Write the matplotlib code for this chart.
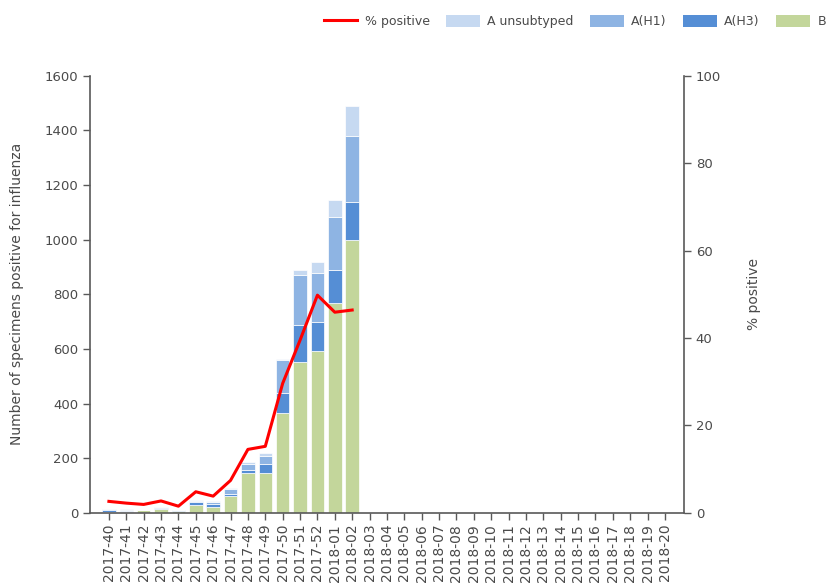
import matplotlib

matplotlib.use("Agg")
import matplotlib.pyplot as plt
import numpy as np
from matplotlib.patches import Patch
from matplotlib.lines import Line2D

weeks = ["2017-%d" % w for w in range(40, 53)] + ["2018-%02d" % w for w in range(1, 21)]

# counts per week (only first 15 weeks reported)
b_counts = [2, 2, 10, 14, 8, 30, 20, 60, 144, 144, 367, 553, 593, 769, 999]
h3_counts = [7, 6, 0, 3, 1, 8, 12, 10, 12, 36, 72, 134, 106, 120, 140]
h1_counts = [3, 3, 0, 3, 1, 5, 8, 18, 22, 27, 120, 184, 178, 195, 239]
unsub_counts = [1, 1, 0, 1, 0, 2, 2, 4, 8, 10, 4, 18, 42, 62, 112]
pct_positive = [2.6, 2.2, 1.9, 2.7, 1.5, 4.8, 3.8, 7.4, 14.5, 15.2, 29.6, 39.5, 49.8, 45.9, 46.4]

c_b = "#c3d69b"
c_h3 = "#558ed5"
c_h1 = "#8eb4e3"
c_un = "#c6d9f1"
c_axis = "#595959"
c_text = "#4a4a4a"


def pad(vals):
    return np.array(vals + [0] * (len(weeks) - len(vals)), dtype=float)


b = pad(b_counts)
h3 = pad(h3_counts)
h1 = pad(h1_counts)
un = pad(unsub_counts)
x = np.arange(len(weeks))

fig = plt.figure(figsize=(8.33, 5.88), dpi=100)
ax = fig.add_axes([0.108, 0.128, 0.713, 0.743])
ax2 = ax.twinx()

w = 0.78
ax.bar(x, b, w, color=c_b, edgecolor="white", linewidth=0.5, zorder=2)
ax.bar(x, h3, w, bottom=b, color=c_h3, edgecolor="white", linewidth=0.5, zorder=2)
ax.bar(x, h1, w, bottom=b + h3, color=c_h1, edgecolor="white", linewidth=0.5, zorder=2)
ax.bar(x, un, w, bottom=b + h3 + h1, color=c_un, edgecolor="white", linewidth=0.5, zorder=2)

ax2.plot(x[: len(pct_positive)], pct_positive, color="#ff0000", linewidth=2.2, zorder=5)

ax.set_xlim(-1.09, len(weeks) - 1 + 1.09)
ax.set_ylim(0, 1600)
ax.set_yticks(np.arange(0, 1601, 200))
ax2.set_ylim(0, 100)
ax2.set_yticks(np.arange(0, 101, 20))
ax.set_xticks(x)
ax.set_xticklabels(weeks, rotation=90, fontsize=10, color=c_text)

for a in (ax, ax2):
    a.spines["top"].set_visible(False)
    for s in ("left", "right", "bottom"):
        a.spines[s].set_color(c_axis)
        a.spines[s].set_linewidth(1.2)
    a.tick_params(colors=c_axis, labelcolor=c_text, labelsize=9.5, length=5, width=1)
ax.spines["right"].set_visible(False)
ax2.spines["left"].set_visible(False)
ax2.spines["bottom"].set_visible(False)
ax.tick_params(axis="x", labelsize=10, pad=3)

ax.set_ylabel("Number of specimens positive for influenza", fontsize=10, color=c_text, labelpad=15)
ax2.set_ylabel("% positive", fontsize=10, color=c_text, rotation=90, labelpad=19)

handles = [
    Line2D([0], [0], color="#ff0000", linewidth=2.2),
    Patch(facecolor=c_un),
    Patch(facecolor=c_h1),
    Patch(facecolor=c_h3),
    Patch(facecolor=c_b),
]
labels = ["% positive", "A unsubtyped", "A(H1)", "A(H3)", "B"]
fig.legend(handles, labels, loc="center right", bbox_to_anchor=(1.005, 0.963), ncol=5,
           frameon=False, fontsize=9, handlelength=2.7, handleheight=1.0,
           columnspacing=1.3, handletextpad=0.6, labelcolor=c_text)

fig.savefig("out.png", dpi=100)
